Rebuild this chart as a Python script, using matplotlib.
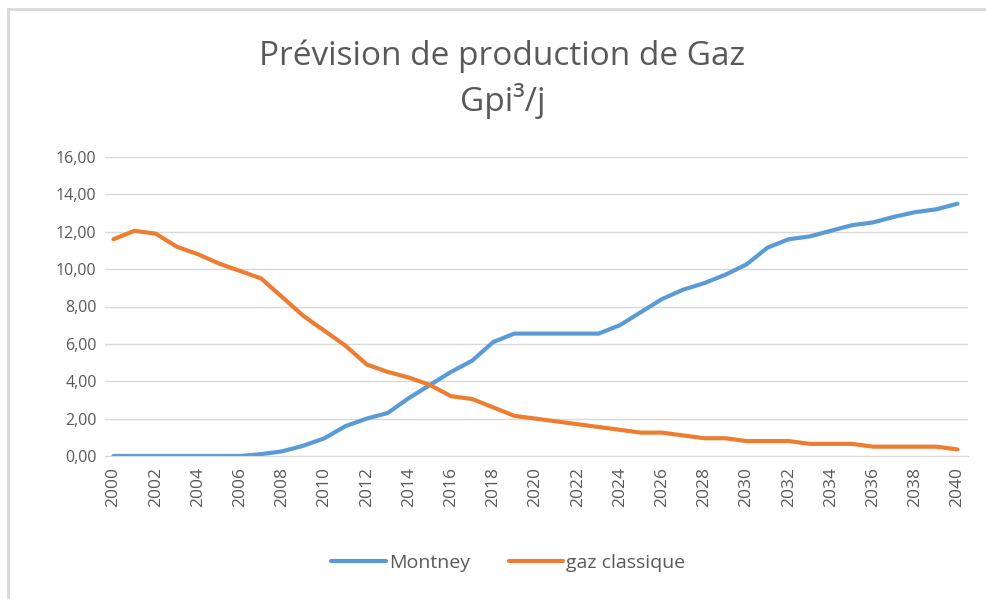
import matplotlib
matplotlib.use("Agg")
import matplotlib.pyplot as plt
from matplotlib.lines import Line2D
from matplotlib.ticker import FuncFormatter, MultipleLocator

years = list(range(2000, 2041))
montney = [0, 0, 0, 0, 0, 0, 0, 0.1, 0.25, 0.55, 0.95, 1.6, 2.0, 2.3, 3.1, 3.8,
           4.5, 5.1, 6.1, 6.55, 6.55, 6.55, 6.55, 6.55, 7.0, 7.7, 8.4, 8.9, 9.25,
           9.7, 10.25, 11.15, 11.6, 11.75, 12.05, 12.35, 12.5, 12.8, 13.05, 13.2, 13.5]
gaz_classique = [11.6, 12.05, 11.9, 11.2, 10.8, 10.3, 9.9, 9.5, 8.5, 7.5, 6.7, 5.9,
                 4.9, 4.5, 4.2, 3.8, 3.2, 3.05, 2.6, 2.15, 2.0, 1.85, 1.7, 1.55, 1.4,
                 1.25, 1.25, 1.1, 0.95, 0.95, 0.8, 0.8, 0.8, 0.65, 0.65, 0.65, 0.5,
                 0.5, 0.5, 0.5, 0.35]
title = "Prévision de production de Gaz\nGpi³/j"
series_names = ["Montney", "gaz classique"]

plt.rcParams['font.family'] = ['Open Sans', 'DejaVu Sans']
txt = '#595959'

fig = plt.figure(figsize=(9.87, 5.99), dpi=100)
ax = fig.add_axes([105/987, 1-456/599, (968-105)/987, (456-157)/599])

ax.plot(years, montney, color='#5B9BD5', lw=3, solid_capstyle='round', label=series_names[0])
ax.plot(years, gaz_classique, color='#ED7D31', lw=3, solid_capstyle='round', label=series_names[1])

ax.set_xlim(1999.6, 2040.5)
ax.set_ylim(0, 16)
ax.yaxis.set_major_locator(MultipleLocator(2))
ax.yaxis.set_major_formatter(FuncFormatter(lambda v, p: f"{v:.2f}".replace('.', ',')))
ax.set_xticks(years[::2])
ax.set_xticklabels([str(y) for y in years[::2]], rotation=90, color=txt, fontsize=12.5)
for lbl in ax.get_yticklabels():
    lbl.set_color(txt)
    lbl.set_fontsize(11.5)
ax.tick_params(axis='x', length=0, pad=8)
ax.tick_params(axis='y', length=0, pad=6)
ax.grid(axis='y', color='#d9d9d9', lw=1)
ax.set_axisbelow(True)
for s in ['top', 'right', 'left']:
    ax.spines[s].set_visible(False)
ax.spines['bottom'].set_color('#d9d9d9')

fig.text(0.509, 1-79/599, title, ha='center', va='center', fontsize=24, color=txt, linespacing=1.35)

leg = fig.legend(loc='center', bbox_to_anchor=(0.515, 1-563/599), ncol=2, frameon=False,
                 fontsize=14, handlelength=2.8, columnspacing=2.0, handletextpad=0.15)
for t in leg.get_texts():
    t.set_color(txt)

fig.add_artist(Line2D([8/987, 8/987], [0, 1-9/599], transform=fig.transFigure, color='#d9d9d9', lw=2))
fig.add_artist(Line2D([8/987, 1], [1-9/599, 1-9/599], transform=fig.transFigure, color='#d9d9d9', lw=2))

fig.savefig('out.png', dpi=100)
